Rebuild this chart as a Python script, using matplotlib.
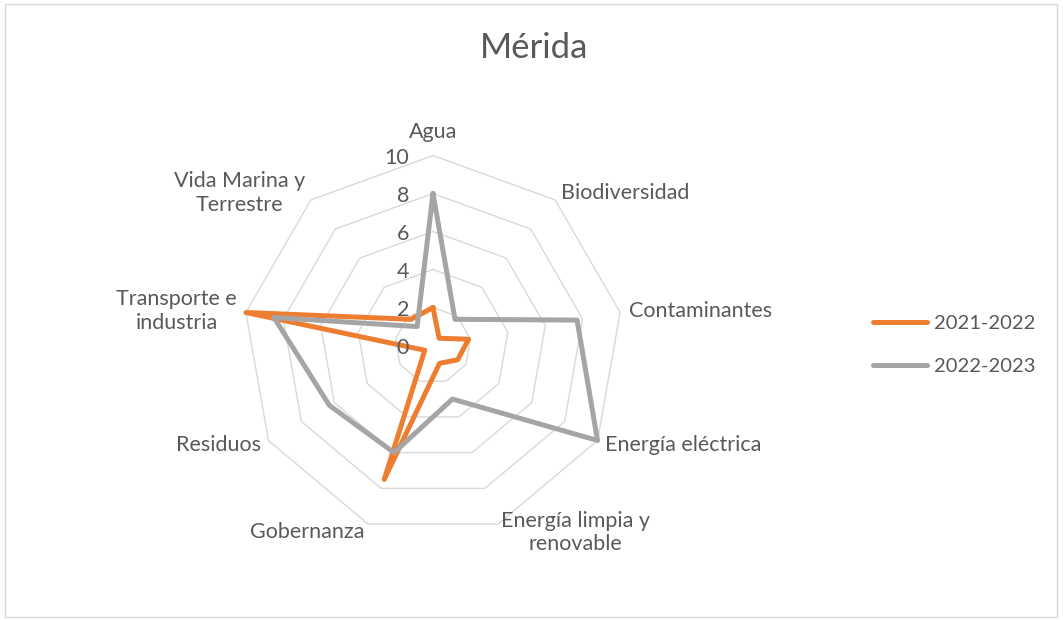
import numpy as np
import matplotlib
matplotlib.use("Agg")
import matplotlib.pyplot as plt
from matplotlib.patches import Rectangle

plt.rcParams['font.family'] = ['Lato', 'DejaVu Sans']

# datos
categorias = ["Agua", "Biodiversidad", "Contaminantes", "Energía eléctrica",
              "Energía limpia y\nrenovable", "Gobernanza", "Residuos",
              "Transporte e\nindustria", "Vida Marina y\nTerrestre"]
serie_2021 = [2.0, 0.5, 1.9, 1.5, 1.0, 7.5, 0.5, 10.0, 1.8]
serie_2022 = [8.0, 1.8, 7.7, 10.0, 3.0, 6.0, 6.3, 8.5, 1.3]
nombres = ["2021-2022", "2022-2023"]
colores = ["#ED7D31", "#A5A5A5"]
ticks = [0, 2, 4, 6, 8, 10]

txt = "#595959"
fs = 15.5

fig = plt.figure(figsize=(10.63, 6.2), dpi=100)
ax = fig.add_axes([243 / 1063, (620 - 345.5 - 190) / 620, 380 / 1063, 380 / 620],
                  projection="polar")
ax.set_theta_zero_location("N")
ax.set_theta_direction(-1)

ang = np.linspace(0, 2 * np.pi, len(categorias), endpoint=False)
cerrado = np.append(ang, ang[0])

# rejilla poligonal
for t in ticks[1:]:
    ax.plot(cerrado, [t] * len(cerrado), color="#d9d9d9", lw=1.0, zorder=1, clip_on=False)

# series
for vals, nom, col in zip([serie_2021, serie_2022], nombres, colores):
    ax.plot(cerrado, vals + vals[:1], color=col, lw=3.6, label=nom, zorder=3,
            solid_joinstyle="round", solid_capstyle="round", clip_on=False)

ax.set_ylim(0, 10)
ax.axis("off")

# etiquetas de categorias
for c, a in zip(categorias, ang):
    s, co = np.sin(a), np.cos(a)
    if s > 0.1:
        ha = "left"
    elif s < -0.1:
        ha = "right"
    else:
        ha = "center"
    if co > 0.95:
        va, dx, dy = "bottom", 0, 13
    else:
        va, dx, dy = "center", 9 * s, 9 * co
    ax.annotate(c, xy=(a, 10), xytext=(dx, dy), textcoords="offset pixels",
                ha=ha, va=va, multialignment="center", fontsize=fs, color=txt,
                annotation_clip=False)

# etiquetas radiales
for t in ticks:
    ax.annotate(str(t), xy=(0, t), xytext=(-24, -2), textcoords="offset pixels",
                ha="right", va="center", fontsize=fs, color=txt, annotation_clip=False)

fig.text(534 / 1063, 1 - 48 / 620, "Mérida", ha="center", va="center",
         fontsize=25, color=txt)

leg = fig.legend(loc="center left", bbox_to_anchor=(873 / 1063, 1 - 345 / 620),
                 frameon=False, fontsize=14.5, handlelength=2.7, handletextpad=0.35,
                 labelspacing=1.3, borderpad=0, borderaxespad=0)
for t in leg.get_texts():
    t.set_color(txt)

fig.patches.append(Rectangle((5 / 1063, 3 / 620), 1052 / 1063, 613 / 620,
                             transform=fig.transFigure, fill=False,
                             ec="#d9d9d9", lw=1))

fig.savefig("out.png", dpi=100)
